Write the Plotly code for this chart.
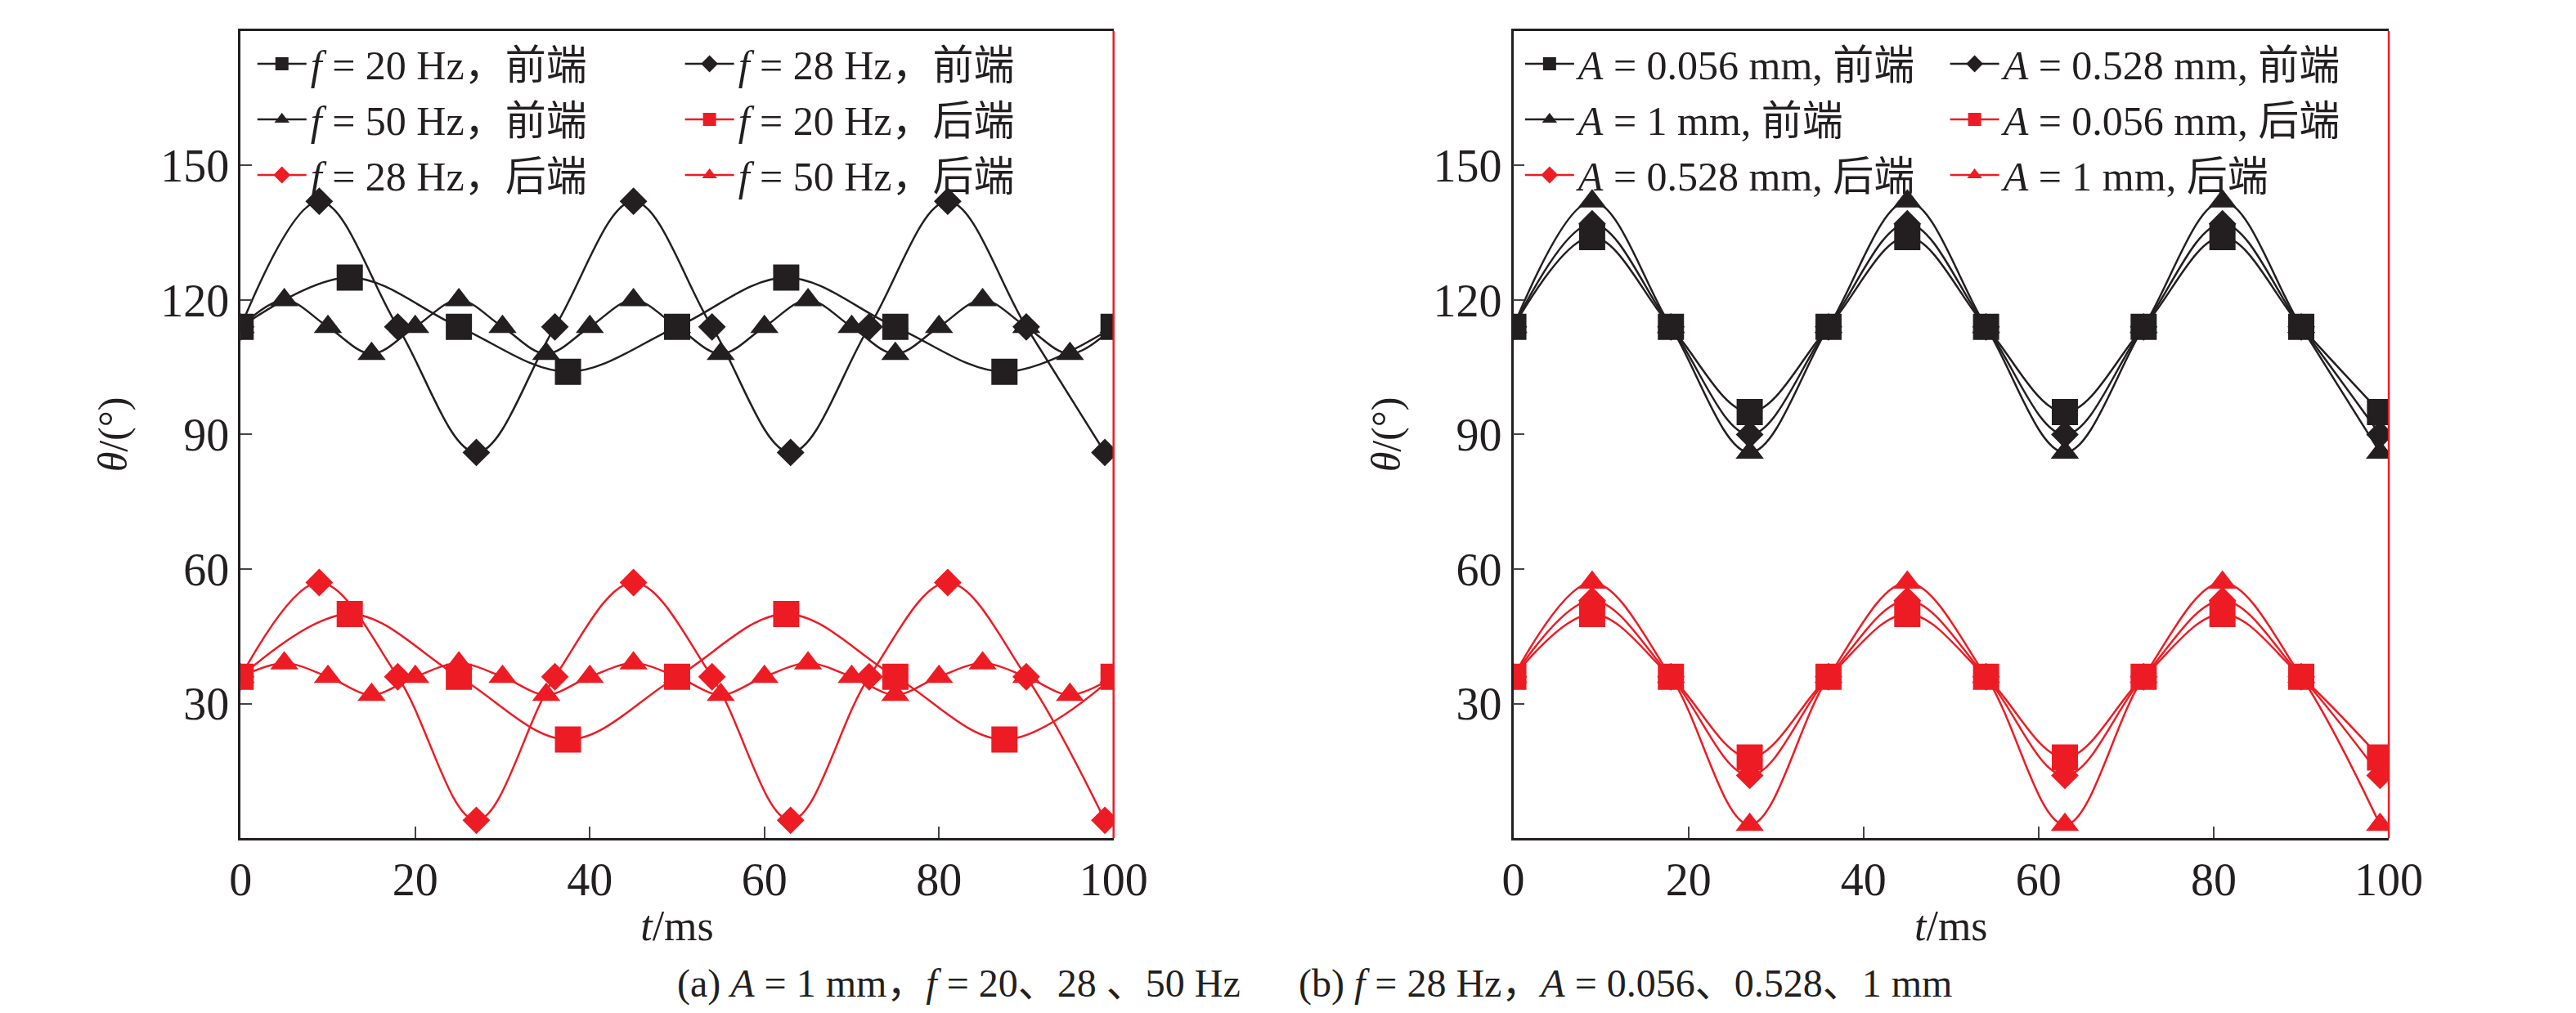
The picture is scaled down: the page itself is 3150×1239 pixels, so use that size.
import numpy as np
import plotly.graph_objects as go

BLACK = '#231f20'
RED = '#ed1c24'
FONT = '"Liberation Serif", "Noto Sans CJK SC", serif'

# (a) A = 1 mm, different frequencies
t20 = [0, 12.5, 25, 37.5, 50, 62.5, 75, 87.5, 100]
t28 = [0, 9, 18, 27, 36, 45, 54, 63, 72, 81, 90, 99]
t50 = list(range(0, 101, 5))

front20 = [114, 125, 114, 104, 114, 125, 114, 104, 114]
front28 = [114, 142, 114, 86, 114, 142, 114, 86, 114, 142, 114, 86]
front50 = [114, 120, 114, 108] * 5 + [114]
rear20 = [36, 50, 36, 22, 36, 50, 36, 22, 36]
rear28 = [36, 57, 36, 4, 36, 57, 36, 4, 36, 57, 36, 4]
rear50 = [36, 39, 36, 32] * 5 + [36]

# (b) f = 28 Hz, different amplitudes
front_b = {'0.056': [114, 134, 114, 95] * 3,
           '0.528': [114, 137, 114, 90] * 3,
           '1': [114, 142, 114, 86] * 3}
rear_b = {'0.056': [36, 50, 36, 18] * 3,
          '0.528': [36, 53, 36, 14] * 3,
          '1': [36, 57, 36, 3] * 3}

MARK = {'square': 32, 'diamond': 26, 'triangle-up': 30}

fig = go.Figure()


def add(x, y, name, color, sym, axis, legend):
    fig.add_trace(go.Scatter(
        x=x, y=y, name=name, mode='lines+markers',
        line=dict(color=color, width=2.5, shape='spline', smoothing=1),
        marker=dict(symbol=sym, size=MARK[sym], color=color),
        xaxis='x' + axis, yaxis='y' + axis, legend=legend))


# legend columns: legend/legend2 for (a), legend3/legend4 for (b)
fi = '<i>f</i>'
add(t20, front20, fi + ' = 20 Hz，前端', BLACK, 'square', '', 'legend')
add(t28, front28, fi + ' = 28 Hz，前端', BLACK, 'diamond', '', 'legend2')
add(t50, front50, fi + ' = 50 Hz，前端', BLACK, 'triangle-up', '', 'legend')
add(t20, rear20, fi + ' = 20 Hz，后端', RED, 'square', '', 'legend2')
add(t28, rear28, fi + ' = 28 Hz，后端', RED, 'diamond', '', 'legend')
add(t50, rear50, fi + ' = 50 Hz，后端', RED, 'triangle-up', '', 'legend2')

syms = {'0.056': 'square', '0.528': 'diamond', '1': 'triangle-up'}
cols = ['legend3', 'legend4']
Ai = '<i>A</i>'
i = 0
for a in ['0.056', '0.528', '1']:
    add(t28, front_b[a], f'{Ai} = {a} mm, 前端', BLACK, syms[a], '2', cols[i % 2])
    i += 1
for a in ['0.056', '0.528', '1']:
    add(t28, rear_b[a], f'{Ai} = {a} mm, 后端', RED, syms[a], '2', cols[i % 2])
    i += 1

tf = dict(family=FONT, size=56, color=BLACK)
xax = dict(range=[0, 100], tickvals=[0, 20, 40, 60, 80, 100], ticks='inside',
           ticklen=14, tickwidth=2, showline=True, linewidth=2.5, linecolor=BLACK,
           mirror=True, showgrid=False, zeroline=False, tickfont=tf,
           title=dict(text='<i>t</i>/ms', font=dict(family=FONT, size=52), standoff=8))
yax = dict(range=[0, 180], tickvals=[30, 60, 90, 120, 150, 180], ticks='inside',
           ticklen=14, tickwidth=2, showline=True, linewidth=2.5, linecolor=BLACK,
           showgrid=False, zeroline=False, tickfont=tf,
           title=dict(text='<i>θ</i>/(°)', font=dict(family=FONT, size=50), standoff=25))

leg = dict(orientation='v', font=dict(family=FONT, size=50, color=BLACK),
           bgcolor='rgba(0,0,0,0)', tracegroupgap=0, itemwidth=60,
           xanchor='left', yanchor='top', y=0.975)

fig.update_layout(
    width=3150, height=1239, margin=dict(l=0, r=0, t=0, b=0),
    paper_bgcolor='white', plot_bgcolor='white',
    font=dict(family=FONT, color=BLACK),
    xaxis=dict(xax, domain=[0.088, 0.433], anchor='y'),
    yaxis=dict(yax, domain=[0.179, 0.976], anchor='x'),
    xaxis2=dict(xax, domain=[0.591, 0.937], anchor='y2'),
    yaxis2=dict(yax, domain=[0.179, 0.976], anchor='x2'),
    legend=dict(leg, x=0.093),
    legend2=dict(leg, x=0.262),
    legend3=dict(leg, x=0.594),
    legend4=dict(leg, x=0.762),
    showlegend=True,
)

# red right spine, as in the original
for xr, yr in [('x domain', 'y domain'), ('x2 domain', 'y2 domain')]:
    fig.add_shape(type='line', xref=xr, yref=yr, x0=1, x1=1, y0=0, y1=1,
                  line=dict(color=RED, width=2.5))

fig.add_annotation(text='(a) <i>A</i> = 1 mm，<i>f</i> = 20、28 、50 Hz', x=0.26, y=0.012,
                   xref='paper', yref='paper', yanchor='bottom', showarrow=False,
                   font=dict(family=FONT, size=48))
fig.add_annotation(text='(b) <i>f</i> = 28 Hz，<i>A</i> = 0.056、0.528、1 mm', x=0.765, y=0.012,
                   xref='paper', yref='paper', yanchor='bottom', showarrow=False,
                   font=dict(family=FONT, size=48))

fig.write_html('out.html')
